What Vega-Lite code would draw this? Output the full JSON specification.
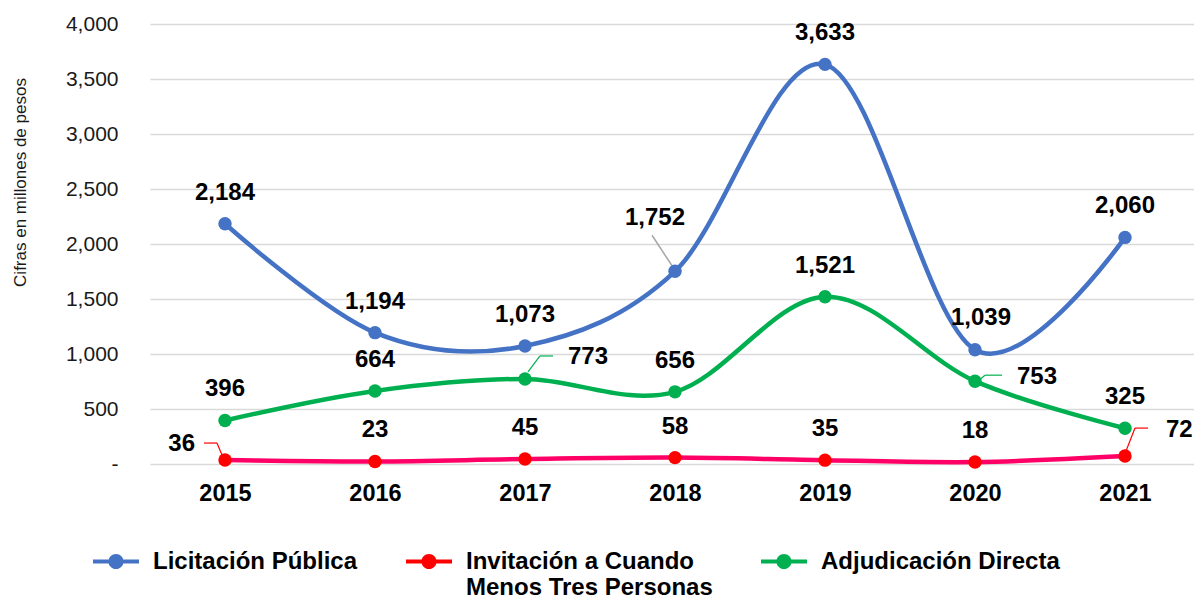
{
  "$schema": "https://vega.github.io/schema/vega-lite/v6.json",
  "width": 1044,
  "height": 440,
  "autosize": {"type": "none"},
  "padding": {"left": 150, "top": 24, "right": 0, "bottom": 136},
  "background": "white",
  "config": {
    "view": {"stroke": null},
    "font": "Liberation Sans",
    "legend": {
      "title": null,
      "orient": "none",
      "legendX": -57,
      "legendY": 503,
      "direction": "horizontal",
      "columns": 3,
      "columnPadding": 48,
      "padding": 0,
      "symbolType": "M-1,0.41H1V0.59H-1Z M-0.33,0.5A0.33,0.33 0 1,1 0.33,0.5A0.33,0.33 0 1,1 -0.33,0.5Z",
      "symbolSize": 2116,
      "symbolStrokeWidth": 0,
      "symbolOpacity": 1,
      "labelFontSize": 24,
      "labelFontWeight": "bold",
      "labelColor": "#000000",
      "labelBaseline": "top",
      "labelOffset": 14,
      "labelLimit": 400
    }
  },
  "data": {
    "values": [
      {"year": "2015", "series": "Licitación Pública", "value": 2184},
      {"year": "2016", "series": "Licitación Pública", "value": 1194},
      {"year": "2017", "series": "Licitación Pública", "value": 1073},
      {"year": "2018", "series": "Licitación Pública", "value": 1752},
      {"year": "2019", "series": "Licitación Pública", "value": 3633},
      {"year": "2020", "series": "Licitación Pública", "value": 1039},
      {"year": "2021", "series": "Licitación Pública", "value": 2060},
      {"year": "2015", "series": "Invitación a Cuando Menos Tres Personas", "value": 36},
      {"year": "2016", "series": "Invitación a Cuando Menos Tres Personas", "value": 23},
      {"year": "2017", "series": "Invitación a Cuando Menos Tres Personas", "value": 45},
      {"year": "2018", "series": "Invitación a Cuando Menos Tres Personas", "value": 58},
      {"year": "2019", "series": "Invitación a Cuando Menos Tres Personas", "value": 35},
      {"year": "2020", "series": "Invitación a Cuando Menos Tres Personas", "value": 18},
      {"year": "2021", "series": "Invitación a Cuando Menos Tres Personas", "value": 72},
      {"year": "2015", "series": "Adjudicación Directa", "value": 396},
      {"year": "2016", "series": "Adjudicación Directa", "value": 664},
      {"year": "2017", "series": "Adjudicación Directa", "value": 773},
      {"year": "2018", "series": "Adjudicación Directa", "value": 656},
      {"year": "2019", "series": "Adjudicación Directa", "value": 1521},
      {"year": "2020", "series": "Adjudicación Directa", "value": 753},
      {"year": "2021", "series": "Adjudicación Directa", "value": 325}
    ]
  },
  "encoding": {
    "x": {
      "field": "year",
      "type": "ordinal",
      "scale": {"type": "point", "padding": 0.5, "range": [0, 1050]},
      "axis": {
        "title": null,
        "labelAngle": 0,
        "labelFontSize": 23.5,
        "labelFontWeight": "bold",
        "labelColor": "#000000",
        "labelPadding": 17,
        "domain": false,
        "ticks": false,
        "grid": false
      }
    },
    "y": {
      "field": "value",
      "type": "quantitative",
      "scale": {"domain": [0, 4000]},
      "axis": {
        "title": "Cifras en millones de pesos",
        "values": [0, 500, 1000, 1500, 2000, 2500, 3000, 3500, 4000],
        "labelExpr": "datum.value == 0 ? '-\u00a0\u00a0' : format(datum.value, ',')",
        "labelFontSize": 21,
        "labelColor": "#1a1a1a",
        "labelPadding": 32,
        "domain": false,
        "ticks": false,
        "gridColor": "#D9D9D9",
        "gridWidth": 1.3,
        "titleFontSize": 17,
        "titleFontWeight": "normal",
        "titleColor": "#1a1a1a",
        "titleX": -130,
        "titleY": 158,
        "titleAngle": -90,
        "titleAlign": "center",
        "titleBaseline": "middle"
      }
    }
  },
  "layer": [
    {
      "mark": {"type": "line", "interpolate": "cardinal", "strokeWidth": 4.5},
      "encoding": {
        "stroke": {
          "field": "series",
          "type": "nominal",
          "scale": {
            "domain": ["Licitación Pública", "Invitación a Cuando Menos Tres Personas", "Adjudicación Directa"],
            "range": ["#4472C4", "#FF0066", "#00B050"]
          },
          "legend": {
            "labelExpr": "datum.label == 'Invitación a Cuando Menos Tres Personas' ? ['Invitación a Cuando', 'Menos Tres Personas'] : [datum.label, '']"
          }
        }
      }
    },
    {
      "transform": [{"filter": "datum.series == 'Licitación Pública' && datum.year == '2018'"}],
      "mark": {"type": "rule", "color": "#A6A6A6", "strokeWidth": 1.5, "xOffset": -23, "yOffset": -36, "x2Offset": 0, "y2Offset": -1},
      "encoding": {"x2": {"field": "year"}, "y2": {"field": "value"}}
    },
    {
      "transform": [{"filter": "datum.series == 'Adjudicación Directa' && datum.year == '2017'"}],
      "mark": {"type": "rule", "color": "#00B050", "strokeWidth": 1.2, "xOffset": 3, "yOffset": -7, "x2Offset": 15, "y2Offset": -23},
      "encoding": {"x2": {"field": "year"}, "y2": {"field": "value"}}
    },
    {
      "transform": [{"filter": "datum.series == 'Adjudicación Directa' && datum.year == '2017'"}],
      "mark": {"type": "rule", "color": "#00B050", "strokeWidth": 1.2, "xOffset": 15, "yOffset": -23, "x2Offset": 28, "y2Offset": -23},
      "encoding": {"x2": {"field": "year"}, "y2": {"field": "value"}}
    },
    {
      "transform": [{"filter": "datum.series == 'Adjudicación Directa' && datum.year == '2020'"}],
      "mark": {"type": "rule", "color": "#00B050", "strokeWidth": 1.2, "xOffset": 5, "yOffset": -2, "x2Offset": 10, "y2Offset": -6},
      "encoding": {"x2": {"field": "year"}, "y2": {"field": "value"}}
    },
    {
      "transform": [{"filter": "datum.series == 'Adjudicación Directa' && datum.year == '2020'"}],
      "mark": {"type": "rule", "color": "#00B050", "strokeWidth": 1.2, "xOffset": 10, "yOffset": -6, "x2Offset": 27, "y2Offset": -6},
      "encoding": {"x2": {"field": "year"}, "y2": {"field": "value"}}
    },
    {
      "transform": [{"filter": "datum.series == 'Invitación a Cuando Menos Tres Personas' && datum.year == '2021'"}],
      "mark": {"type": "rule", "color": "#FF0000", "strokeWidth": 1.2, "xOffset": 1, "yOffset": -5, "x2Offset": 10, "y2Offset": -28},
      "encoding": {"x2": {"field": "year"}, "y2": {"field": "value"}}
    },
    {
      "transform": [{"filter": "datum.series == 'Invitación a Cuando Menos Tres Personas' && datum.year == '2021'"}],
      "mark": {"type": "rule", "color": "#FF0000", "strokeWidth": 1.2, "xOffset": 10, "yOffset": -28, "x2Offset": 23, "y2Offset": -28},
      "encoding": {"x2": {"field": "year"}, "y2": {"field": "value"}}
    },
    {
      "transform": [{"filter": "datum.series == 'Invitación a Cuando Menos Tres Personas' && datum.year == '2015'"}],
      "mark": {"type": "rule", "color": "#FF0000", "strokeWidth": 1.2, "xOffset": -21, "yOffset": -17, "x2Offset": -8, "y2Offset": -17},
      "encoding": {"x2": {"field": "year"}, "y2": {"field": "value"}}
    },
    {
      "transform": [{"filter": "datum.series == 'Invitación a Cuando Menos Tres Personas' && datum.year == '2015'"}],
      "mark": {"type": "rule", "color": "#FF0000", "strokeWidth": 1.2, "xOffset": -8, "yOffset": -17, "x2Offset": -3, "y2Offset": -5},
      "encoding": {"x2": {"field": "year"}, "y2": {"field": "value"}}
    },
    {
      "mark": {"type": "circle", "size": 180, "opacity": 1},
      "encoding": {
        "fill": {
          "field": "series",
          "type": "nominal",
          "scale": {
            "domain": ["Licitación Pública", "Invitación a Cuando Menos Tres Personas", "Adjudicación Directa"],
            "range": ["#4472C4", "#FF0000", "#00B050"]
          },
          "legend": {
            "labelExpr": "datum.label == 'Invitación a Cuando Menos Tres Personas' ? ['Invitación a Cuando', 'Menos Tres Personas'] : [datum.label, '']"
          }
        }
      }
    },
    {
      "transform": [{"filter": "!((datum.series == 'Licitación Pública' && (datum.year == '2018' || datum.year == '2020')) || (datum.series == 'Adjudicación Directa' && (datum.year == '2017' || datum.year == '2020')) || (datum.series == 'Invitación a Cuando Menos Tres Personas' && (datum.year == '2015' || datum.year == '2021')))"}],
      "mark": {"type": "text", "fontSize": 24, "fontWeight": "bold", "color": "#000000", "dy": -31, "baseline": "middle"},
      "encoding": {"text": {"field": "value", "type": "quantitative", "format": ","}}
    },
    {
      "transform": [{"filter": "datum.series == 'Licitación Pública' && datum.year == '2020'"}],
      "mark": {"type": "text", "fontSize": 24, "fontWeight": "bold", "color": "#000000", "dx": 6, "dy": -32, "baseline": "middle"},
      "encoding": {"text": {"field": "value", "type": "quantitative", "format": ","}}
    },
    {
      "transform": [{"filter": "datum.series == 'Licitación Pública' && datum.year == '2018'"}],
      "mark": {"type": "text", "fontSize": 24, "fontWeight": "bold", "color": "#000000", "dx": -20, "dy": -53, "baseline": "middle"},
      "encoding": {"text": {"field": "value", "type": "quantitative", "format": ","}}
    },
    {
      "transform": [{"filter": "datum.series == 'Adjudicación Directa' && datum.year == '2017'"}],
      "mark": {"type": "text", "fontSize": 24, "fontWeight": "bold", "color": "#000000", "dx": 43, "dy": -22, "align": "left", "baseline": "middle"},
      "encoding": {"text": {"field": "value", "type": "quantitative", "format": ","}}
    },
    {
      "transform": [{"filter": "datum.series == 'Adjudicación Directa' && datum.year == '2020'"}],
      "mark": {"type": "text", "fontSize": 24, "fontWeight": "bold", "color": "#000000", "dx": 42, "dy": -4, "align": "left", "baseline": "middle"},
      "encoding": {"text": {"field": "value", "type": "quantitative", "format": ","}}
    },
    {
      "transform": [{"filter": "datum.series == 'Invitación a Cuando Menos Tres Personas' && datum.year == '2021'"}],
      "mark": {"type": "text", "fontSize": 24, "fontWeight": "bold", "color": "#000000", "dx": 41, "dy": -26, "align": "left", "baseline": "middle"},
      "encoding": {"text": {"field": "value", "type": "quantitative", "format": ","}}
    },
    {
      "transform": [{"filter": "datum.series == 'Invitación a Cuando Menos Tres Personas' && datum.year == '2015'"}],
      "mark": {"type": "text", "fontSize": 24, "fontWeight": "bold", "color": "#000000", "dx": -30, "dy": -16, "align": "right", "baseline": "middle"},
      "encoding": {"text": {"field": "value", "type": "quantitative", "format": ","}}
    }
  ]
}
